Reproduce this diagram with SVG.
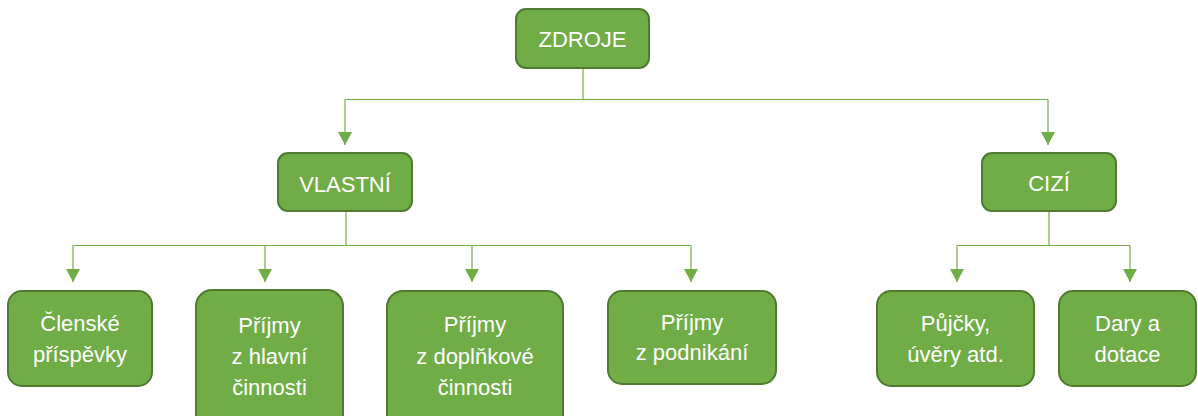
<svg xmlns="http://www.w3.org/2000/svg" width="1198" height="416" viewBox="0 0 1198 416">
  <defs>
    <style>
      .box { fill: #70AD47; stroke: #4F7A30; stroke-width: 2; }
      .lbl { font-family: "Liberation Sans", Arial, sans-serif; font-size: 22px; fill: #FFFFFF; text-anchor: middle; }
      .wire { fill: none; stroke: #70AD47; stroke-width: 1.2; }
    </style>
    <marker id="arrow" markerUnits="userSpaceOnUse" markerWidth="14" markerHeight="14" refX="13" refY="7" orient="auto">
      <path d="M0,0 L13,7 L0,14 Z" fill="#70AD47"/>
    </marker>
  </defs>
  <rect width="1198" height="416" fill="#FFFFFF"/>

  <!-- connectors -->
  <g id="connectors">
    <path class="wire" d="M583,68 V99.5"/>
    <path class="wire" d="M345,99.5 H1048"/>
    <path class="wire" d="M345,99.5 V145" marker-end="url(#arrow)"/>
    <path class="wire" d="M1048,99.5 V145" marker-end="url(#arrow)"/>

    <path class="wire" d="M346,211 V245.5"/>
    <path class="wire" d="M73,245.5 H691"/>
    <path class="wire" d="M73,245.5 V282" marker-end="url(#arrow)"/>
    <path class="wire" d="M265,245.5 V282" marker-end="url(#arrow)"/>
    <path class="wire" d="M472,245.5 V282" marker-end="url(#arrow)"/>
    <path class="wire" d="M691,245.5 V282" marker-end="url(#arrow)"/>

    <path class="wire" d="M1049,211 V245.5"/>
    <path class="wire" d="M957,245.5 H1130"/>
    <path class="wire" d="M957,245.5 V282" marker-end="url(#arrow)"/>
    <path class="wire" d="M1130,245.5 V282" marker-end="url(#arrow)"/>
  </g>

  <g id="zdroje">
    <rect class="box" x="516" y="9" width="133" height="59" rx="10"/>
    <text class="lbl" x="582.5" y="47">ZDROJE</text>
  </g>

  <g id="vlastni">
    <rect class="box" x="278" y="153" width="134" height="58" rx="10"/>
    <text class="lbl" x="345" y="192">VLASTNÍ</text>
  </g>

  <g id="cizi">
    <rect class="box" x="982" y="153" width="134" height="58" rx="10"/>
    <text class="lbl" x="1049" y="191">CIZÍ</text>
  </g>

  <g id="clenske">
    <rect class="box" x="8" y="291" width="144" height="95" rx="14"/>
    <text class="lbl" x="80" y="331">Členské</text>
    <text class="lbl" x="80" y="362">příspěvky</text>
  </g>

  <g id="hlavni">
    <rect class="box" x="196" y="290" width="147" height="140" rx="16"/>
    <text class="lbl" x="269.5" y="333">Příjmy</text>
    <text class="lbl" x="269.5" y="364">z hlavní</text>
    <text class="lbl" x="269.5" y="395">činnosti</text>
  </g>

  <g id="doplnkove">
    <rect class="box" x="387" y="291" width="176" height="140" rx="16"/>
    <text class="lbl" x="475" y="332">Příjmy</text>
    <text class="lbl" x="475" y="364">z doplňkové</text>
    <text class="lbl" x="475" y="395">činnosti</text>
  </g>

  <g id="podnikani">
    <rect class="box" x="608" y="291" width="168" height="93" rx="14"/>
    <text class="lbl" x="692" y="330">Příjmy</text>
    <text class="lbl" x="692" y="360">z podnikání</text>
  </g>

  <g id="pujcky">
    <rect class="box" x="877" y="291" width="157" height="95" rx="14"/>
    <text class="lbl" x="955.5" y="331">Půjčky,</text>
    <text class="lbl" x="955.5" y="362">úvěry atd.</text>
  </g>

  <g id="dary">
    <rect class="box" x="1059" y="291" width="137" height="95" rx="14"/>
    <text class="lbl" x="1127.5" y="331">Dary a</text>
    <text class="lbl" x="1127.5" y="362">dotace</text>
  </g>
</svg>
